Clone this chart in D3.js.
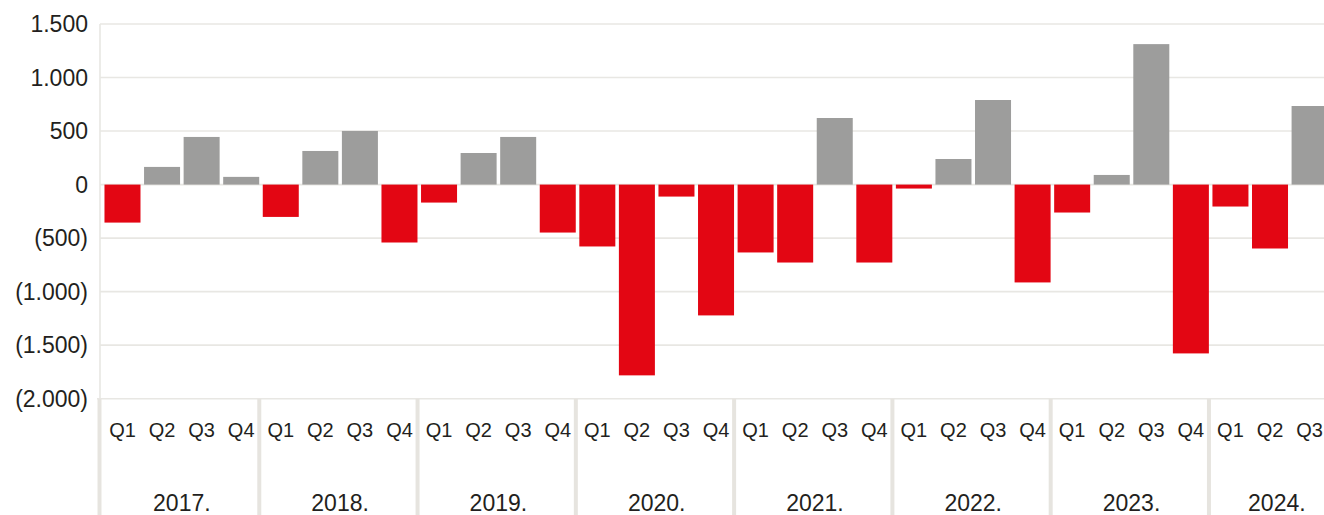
<!DOCTYPE html>
<html>
<head>
<meta charset="utf-8">
<script src="https://cdn.jsdelivr.net/npm/d3@7/dist/d3.min.js"></script>
<style>
  body { margin: 0; background: #fff; }
  text { font-family: "Liberation Sans", Arial, sans-serif; fill: #231f20; }
</style>
</head>
<body>
<div id="chart"></div>
<script>
var width = 1324;
var height = 515;

var years = ['2017.', '2018.', '2019.', '2020.', '2021.', '2022.', '2023.', '2024.'];
var quarters = ['Q1', 'Q2', 'Q3', 'Q4'];
var yTicks = [1500, 1000, 500, 0, -500, -1000, -1500, -2000];
// one value per quarter, 2017 Q1 .. 2024 Q3
var values = [
  -355, 165, 445, 72,
  -302, 314, 501, -541,
  -168, 295, 445, -448,
  -578, -1782, -112, -1222,
  -634, -728, 622, -728,
  -37, 239, 790, -914,
  -261, 90, 1312, -1577,
  -205, -597, 734
];

var gridColor = '#e8e7e3';
var left = 100;
var plotTop = 24;
var plotBottom = 398.7;
var plotRight = 1343;

var canvas = d3.select('#chart')
  .append('svg')
  .attr('width', width)
  .attr('height', height);

// build the quarter keys from the years and quarters
var data = values.map(function(v, i) {
  return {
    key: years[Math.floor(i / 4)] + quarters[i % 4],
    year: years[Math.floor(i / 4)],
    quarter: quarters[i % 4],
    value: v
  };
});

var xScale = d3.scaleBand()
  .domain(data.map(function(d) { return d.key; }))
  .range([102.7, 102.7 + values.length * 39.57])
  .paddingInner(0.09)
  .paddingOuter(0.045);
var step = xScale.step();
var x0 = xScale.range()[0];

var yScale = d3.scaleLinear().domain([-2000, 1500]).range([plotBottom, plotTop]);

var locale = d3.formatLocale({ decimal: ',', thousands: '.', grouping: [3], currency: ['', ''] });
var fmt = locale.format(',');
function tickText(v) {
  return v < 0 ? '(' + fmt(-v) + ')' : fmt(v);
}

// gridlines
canvas.append('g')
  .selectAll('line')
  .data(yTicks)
  .enter()
  .append('line')
  .attr('x1', function(d) { return d == -2000 ? left - 3 : left; })
  .attr('x2', width)
  .attr('y1', function(d) { return yScale(d); })
  .attr('y2', function(d) { return yScale(d); })
  .attr('stroke', gridColor)
  .attr('stroke-width', 1.6);

canvas.append('line')
  .attr('x1', left).attr('x2', left)
  .attr('y1', plotTop).attr('y2', plotBottom)
  .attr('stroke', gridColor)
  .attr('stroke-width', 1.6);

// y tick labels
canvas.append('g')
  .selectAll('text')
  .data(yTicks)
  .enter()
  .append('text')
  .text(tickText)
  .attr('x', 88)
  .attr('y', function(d) { return yScale(d); })
  .attr('dy', '0.36em')
  .attr('text-anchor', 'end')
  .style('font-size', '23px');

// bars
canvas.append('g')
  .selectAll('rect')
  .data(data)
  .enter()
  .append('rect')
  .attr('x', function(d) { return xScale(d.key); })
  .attr('width', xScale.bandwidth())
  .attr('y', function(d) { return yScale(Math.max(0, d.value)); })
  .attr('height', function(d) { return Math.abs(yScale(d.value) - yScale(0)); })
  .attr('fill', function(d) { return d.value < 0 ? '#e30613' : '#9d9d9c'; });

// year dividers under the plot
var yearStarts = years.map(function(y, i) { return x0 + i * 4 * step; });
canvas.append('g')
  .selectAll('line')
  .data(yearStarts)
  .enter()
  .append('line')
  .attr('x1', function(d, i) { return i == 0 ? left - 0.5 : d - 1.7; })
  .attr('x2', function(d, i) { return i == 0 ? left - 0.5 : d - 1.7; })
  .attr('y1', plotBottom)
  .attr('y2', height)
  .attr('stroke', '#e6e4df')
  .attr('stroke-width', 4);

// quarter labels
canvas.append('g')
  .selectAll('text')
  .data(data)
  .enter()
  .append('text')
  .text(function(d) { return d.quarter; })
  .attr('x', function(d) { return xScale(d.key) + xScale.bandwidth() / 2; })
  .attr('y', 437)
  .attr('text-anchor', 'middle')
  .style('font-size', '20px');

// year labels, centered between the dividers (last one runs to the plot edge)
canvas.append('g')
  .selectAll('text')
  .data(years)
  .enter()
  .append('text')
  .text(function(d) { return d; })
  .attr('x', function(d, i) {
    var a = yearStarts[i];
    var b = Math.min(a + 4 * step, plotRight);
    return (a + b) / 2;
  })
  .attr('y', 511)
  .attr('text-anchor', 'middle')
  .style('font-size', '23px');
</script>
</body>
</html>
